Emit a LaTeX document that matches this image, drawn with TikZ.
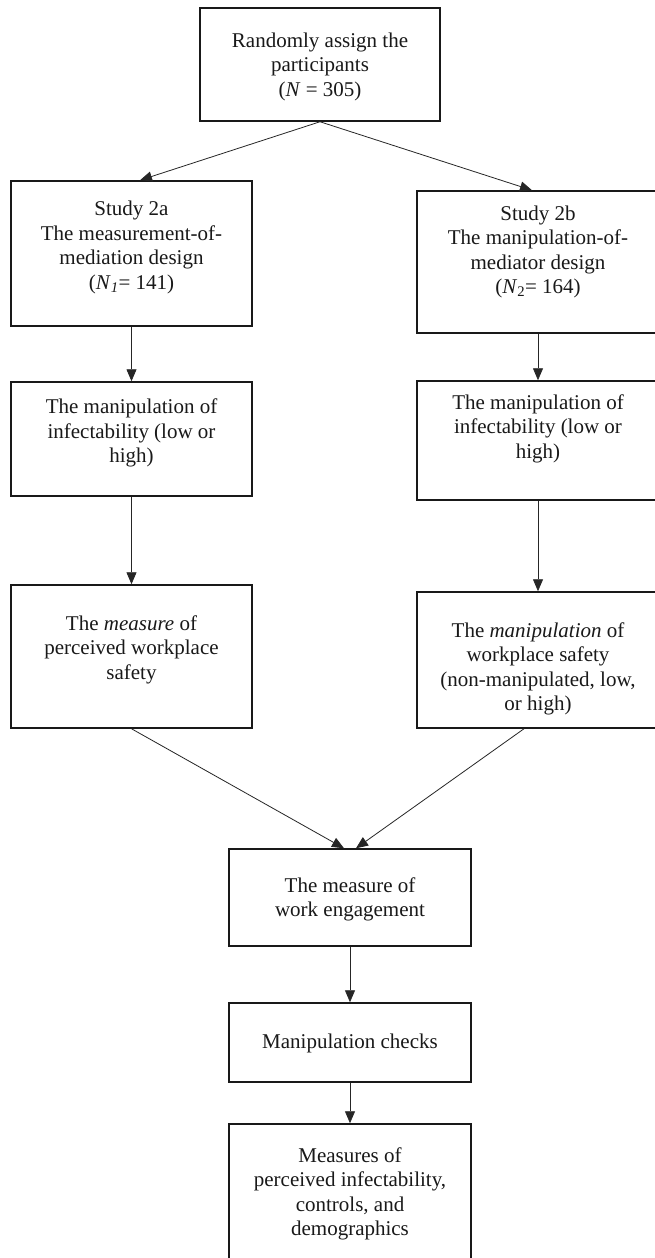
\documentclass[tikz,border=0pt]{standalone}
\usepackage{fontspec}
\setmainfont{Liberation Serif}
\usetikzlibrary{arrows.meta,calc}
\tikzset{
  boxnode/.style={draw=black!90, line width=1.5pt, rectangle, inner sep=0pt},
  txt/.style={align=center, inner sep=0pt, font=\fontsize{21}{24.5}\selectfont, text=black!90},
  arr/.style={draw=black!85, line width=0.8pt, -{Triangle[length=12pt,width=10pt]}}
}
\begin{document}
\begin{tikzpicture}[x=1pt,y=-1pt]
\useasboundingbox[fill=white] (0,0) rectangle (654,1258);
% boxes
\node[boxnode, minimum width=240pt, minimum height=113pt] (top) at (320,64.5) {};
\node[boxnode, minimum width=241pt, minimum height=145pt] (s2a) at (131.5,253.5) {};
\node[boxnode, minimum width=242pt, minimum height=142pt] (s2b) at (538,262) {};
\node[boxnode, minimum width=241pt, minimum height=114pt] (manl) at (131.5,439) {};
\node[boxnode, minimum width=242pt, minimum height=119pt] (manr) at (538,440.5) {};
\node[boxnode, minimum width=241pt, minimum height=143pt] (measl) at (131.5,656.5) {};
\node[boxnode, minimum width=242pt, minimum height=136pt] (manws) at (538,660) {};
\node[boxnode, minimum width=242pt, minimum height=97pt] (engage) at (350,897.5) {};
\node[boxnode, minimum width=242pt, minimum height=79pt] (checks) at (350,1042.5) {};
\node[boxnode, minimum width=242pt, minimum height=146pt] (measures) at (350,1197) {};
% texts
\node[txt] (ttop) at ($(top.center)+(0,2)$) {Randomly assign the\\participants\\(\textit{N} = 305)};
\node[txt] (ts2a) at ($(s2a.center)+(0,-6)$) {Study 2a\\The measurement-of-\\mediation design\\(\textit{N}\textsubscript{\textit{1}}= 141)};
\node[txt] (ts2b) at ($(s2b.center)+(0,-10)$) {Study 2b\\The manipulation-of-\\mediator design\\(\textit{N}\textsubscript{2}= 164)};
\node[txt] (tmanl) at ($(manl.center)+(0,-6)$) {The manipulation of\\infectability (low or\\high)};
\node[txt] (tmanr) at ($(manr.center)+(0,-12)$) {The manipulation of\\infectability (low or\\high)};
\node[txt] (tmeasl) at ($(measl.center)+(0,-7)$) {The \textit{measure} of\\perceived workplace\\safety};
\node[txt] (tmanws) at ($(manws.center)+(0,9)$) {The \textit{manipulation} of\\workplace safety\\(non-manipulated, low,\\or high)};
\node[txt] (tengage) at ($(engage.center)+(0,2)$) {The measure of\\work engagement};
\node[txt] (tchecks) at ($(checks.center)+(0,1)$) {Manipulation checks};
\node[txt] (tmeasures) at ($(measures.center)+(0,-3)$) {Measures of\\perceived infectability,\\controls, and\\demographics};
% connector end points
\coordinate (s2ain) at ($(s2a.north)+(8.5,0)$);
\coordinate (s2bin) at ($(s2b.north)+(-6,0)$);
\coordinate (manwsout) at ($(manws.south)+(-14,0)$);
\coordinate (engin1) at ($(engage.north)+(-6,0)$);
\coordinate (engin2) at ($(engage.north)+(6,0)$);
% connectors
\draw[arr] (top.south) -- (s2ain);
\draw[arr] (top.south) -- (s2bin);
\draw[arr] (s2a.south) -- (manl.north);
\draw[arr] (s2b.south) -- (manr.north);
\draw[arr] (manl.south) -- (measl.north);
\draw[arr] (manr.south) -- (manws.north);
\draw[arr] (measl.south) -- (engin1);
\draw[arr] (manwsout) -- (engin2);
\draw[arr] (engage.south) -- (checks.north);
\draw[arr] (checks.south) -- (measures.north);
\end{tikzpicture}
\end{document}
